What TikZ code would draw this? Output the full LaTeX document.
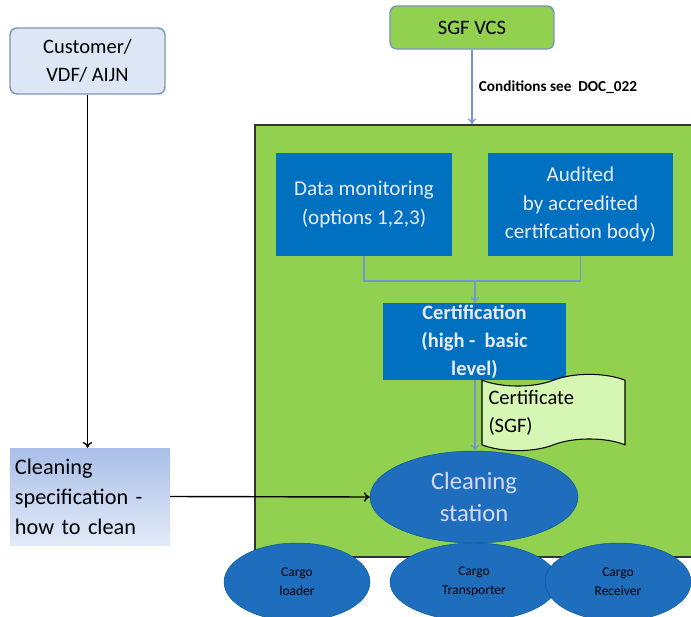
\documentclass[tikz,border=0pt]{standalone}
\usepackage{fontspec}
\setmainfont{Carlito}
\usepackage{tikz}
\usetikzlibrary{arrows.meta,positioning,shapes.geometric,shapes.symbols}

\definecolor{sgfgreen}{HTML}{92D050}
\definecolor{boxblue}{HTML}{0070C0}
\definecolor{ovalblue}{HTML}{1F6EBE}
\definecolor{paleblue}{HTML}{DCE6F4}
\definecolor{edgeblue}{HTML}{7C95BA}
\definecolor{linkblue}{HTML}{7495D0}
\definecolor{paper}{HTML}{D6F7B4}
\definecolor{spectop}{HTML}{A9BFE9}
\definecolor{specbot}{HTML}{E2EAF8}

\begin{document}
\begin{tikzpicture}[x=0.03cm, y=-0.03cm,
        party/.style={rectangle, rounded corners=6pt, draw=edgeblue, line width=1.2pt,
        align=center, font=\fontsize{17.5}{24}\selectfont},
        task/.style={rectangle, fill=boxblue, text=white!92!blue, align=center,
        font=\fontsize{18}{24.5}\selectfont},
        actor/.style={ellipse, fill=ovalblue, draw=boxblue!80!black, inner sep=0pt, align=center},
        link/.style={draw=linkblue, line width=1.1pt},
        flow/.style={draw=black, line width=1.2pt, -{To[length=5pt,width=8pt]}}]
        \useasboundingbox (0,0) rectangle (691,617);
        \clip (0,0) rectangle (691,617);

        \node (zone) [draw=black!80, line width=1.1pt, fill=sgfgreen, minimum width=13.35cm, minimum height=12.96cm, inner sep=0pt] at (477.5,341) {};

        \node (customer) [party, fill=paleblue, minimum width=4.65cm, minimum height=1.98cm] at (87.5,61) {Customer/\\VDF/ AIJN};
        \node (sgf) [party, fill=sgfgreen, minimum width=4.92cm, minimum height=1.29cm] at (472,27.5) {SGF VCS};

        \node (data) [task, minimum width=5.28cm, minimum height=3.09cm] at (364,204.5) {Data monitoring\\(options 1,2,3)};
        \node (audit) [task, minimum width=5.55cm, minimum height=3.09cm] at (580.5,204.5) {Audited\\by accredited\\certifcation body)};
        \node (cert) [task, font=\fontsize{17.5}{24}\selectfont\bfseries, minimum width=5.49cm, minimum height=2.31cm, inner sep=1pt] at (474.5,341.5) {Certification\\(high -\ \ basic\\level)};

        \node (paper) [tape, draw=black, line width=0.9pt, fill=paper, tape bend height=0.35cm,
        minimum width=4.29cm, minimum height=1.95cm, align=left, text width=3.9cm,
        font=\fontsize{17.5}{24}\selectfont] at (553.5,412.5) {Certificate\\(SGF)};

        \node (station) [actor, text=white!85!blue, minimum width=6.24cm, minimum height=2.76cm,
        font=\fontsize{21}{27}\selectfont] at (474,497) {Cleaning\\station};

        \node (spec) [rectangle, top color=spectop, bottom color=specbot,
        minimum width=4.8cm, minimum height=2.91cm, align=left, text width=4.5cm,
        font=\fontsize{19}{25.5}\selectfont] at (90,496.5) {Cleaning\\specification -\\how to clean};

        \node (loader) [actor, minimum width=4.38cm, minimum height=2.34cm, font=\fontsize{11.5}{16}\selectfont] at (297,582) {Cargo\\loader};
        \node (transporter) [actor, minimum width=5.04cm, minimum height=2.34cm, font=\fontsize{11.5}{16}\selectfont] at (474,582) {Cargo\\Transporter};
        \node (receiver) [actor, minimum width=4.38cm, minimum height=2.34cm, font=\fontsize{11.5}{16}\selectfont] at (618,582) {Cargo\\Receiver};

        \coordinate (merge) at (475,281);
        \draw [link, -{To[length=5pt,width=7pt]}] (sgf.south) -- (sgf.south |- zone.north)
            node [midway, right=2pt, font=\fontsize{13}{16}\selectfont\bfseries] {Conditions see\ \ DOC\_022};
        \draw [link] (data.south) |- (merge) -| (audit.south);
        \draw [link, -{To[length=5pt,width=7pt]}] (merge) -- (merge |- cert.north);
        \draw [link, -{To[length=5pt,width=7pt]}] (cert.south -| merge) -- (merge |- station.north);

        \draw [flow] (customer.south) -- (customer.south |- spec.north);
        \draw [flow] (spec.east) -- (station.west);
\end{tikzpicture}
\end{document}
